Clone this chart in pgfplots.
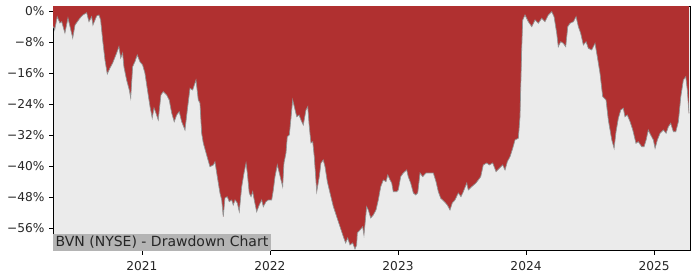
\documentclass[border=0pt]{standalone}
\usepackage{pgfplots}
\usepackage{pgfplotstable}
\pgfplotsset{compat=1.18}
\usepackage{fontspec}
\setmainfont{DejaVu Sans}
\definecolor{ddred}{RGB}{176,48,48}
\definecolor{bg}{RGB}{235,235,235}
\definecolor{boxg}{RGB}{180,180,180}
\pgfplotstableread{
x y
2020.305 1.5
2020.305 -4.0
2020.313 -4.39
2020.318 -4.90
2020.338 -1.47
2020.359 -3.10
2020.373 -2.76
2020.398 -5.68
2020.422 -1.81
2020.459 -6.97
2020.477 -3.61
2020.516 -1.81
2020.539 -1.03
2020.568 -0.44
2020.586 -2.76
2020.607 -1.47
2020.617 -3.61
2020.646 -1.29
2020.664 -1.03
2020.677 -2.32
2020.693 -7.48
2020.711 -12.65
2020.729 -16.26
2020.750 -14.71
2020.771 -13.42
2020.802 -10.84
2020.820 -9.21
2020.834 -12.13
2020.849 -10.84
2020.859 -14.37
2020.880 -17.81
2020.901 -20.39
2020.912 -22.45
2020.927 -14.37
2020.945 -13.08
2020.963 -11.35
2020.984 -13.08
2021.005 -13.94
2021.023 -16.00
2021.045 -20.83
2021.063 -24.70
2021.080 -27.61
2021.094 -25.03
2021.109 -26.32
2021.127 -28.13
2021.148 -21.68
2021.166 -20.83
2021.193 -21.68
2021.213 -22.97
2021.232 -26.32
2021.252 -28.57
2021.271 -26.84
2021.291 -25.99
2021.310 -28.57
2021.336 -30.71
2021.354 -25.55
2021.375 -19.95
2021.396 -20.39
2021.422 -17.81
2021.440 -22.97
2021.453 -23.74
2021.466 -31.48
2021.479 -34.06
2021.505 -37.16
2021.531 -40.18
2021.557 -39.74
2021.570 -38.89
2021.584 -41.81
2021.609 -46.97
2021.623 -48.77
2021.635 -53.08
2021.648 -48.26
2021.666 -47.92
2021.682 -49.21
2021.701 -48.77
2021.713 -50.06
2021.727 -48.77
2021.745 -49.55
2021.760 -51.79
2021.779 -45.34
2021.797 -41.81
2021.813 -39.23
2021.823 -41.81
2021.838 -46.97
2021.852 -47.92
2021.865 -46.63
2021.877 -48.77
2021.896 -51.79
2021.916 -50.06
2021.935 -48.77
2021.948 -50.50
2021.969 -49.21
2021.987 -48.77
2022.013 -48.77
2022.026 -46.19
2022.039 -42.76
2022.057 -39.74
2022.073 -41.81
2022.086 -43.61
2022.099 -45.34
2022.109 -39.23
2022.125 -36.64
2022.135 -32.44
2022.151 -32.00
2022.164 -27.61
2022.177 -22.97
2022.190 -24.70
2022.209 -27.28
2022.227 -26.84
2022.242 -28.13
2022.260 -29.42
2022.281 -25.55
2022.295 -24.70
2022.307 -29.86
2022.320 -34.06
2022.334 -33.73
2022.346 -37.60
2022.365 -46.63
2022.385 -42.76
2022.398 -39.23
2022.416 -38.45
2022.430 -40.18
2022.448 -44.05
2022.469 -46.97
2022.495 -50.50
2022.521 -53.08
2022.547 -55.66
2022.573 -58.24
2022.591 -59.87
2022.607 -58.58
2022.625 -60.39
2022.646 -59.87
2022.664 -61.42
2022.677 -60.39
2022.682 -57.29
2022.703 -56.52
2022.724 -55.66
2022.734 -57.81
2022.755 -50.50
2022.768 -51.35
2022.787 -53.42
2022.807 -52.65
2022.828 -51.35
2022.846 -48.77
2022.865 -45.34
2022.885 -43.61
2022.906 -44.05
2022.920 -42.32
2022.938 -43.61
2022.951 -44.39
2022.963 -46.63
2022.990 -46.63
2023.002 -46.19
2023.021 -42.76
2023.041 -41.81
2023.068 -41.03
2023.080 -42.76
2023.099 -44.39
2023.120 -46.97
2023.138 -47.48
2023.154 -46.97
2023.172 -41.81
2023.193 -42.76
2023.219 -41.81
2023.250 -41.81
2023.276 -41.81
2023.297 -44.05
2023.315 -46.63
2023.334 -48.34
2023.362 -49.21
2023.385 -50.06
2023.406 -51.35
2023.424 -49.55
2023.445 -48.77
2023.471 -46.97
2023.492 -47.92
2023.510 -46.63
2023.537 -44.39
2023.549 -46.19
2023.576 -45.34
2023.609 -44.39
2023.627 -43.61
2023.646 -42.76
2023.666 -39.74
2023.693 -39.23
2023.713 -39.74
2023.740 -39.23
2023.766 -41.47
2023.791 -40.59
2023.818 -39.74
2023.836 -41.03
2023.854 -38.89
2023.875 -37.60
2023.896 -35.43
2023.914 -33.29
2023.940 -32.85
2023.953 -27.28
2023.966 -10.06
2023.974 -2.32
2023.992 -1.03
2024.018 -2.76
2024.045 -4.05
2024.070 -2.32
2024.096 -3.17
2024.123 -1.88
2024.148 -2.76
2024.174 -1.03
2024.201 -0.18
2024.219 -1.47
2024.240 -5.75
2024.252 -9.21
2024.271 -7.92
2024.291 -8.34
2024.310 -9.21
2024.326 -4.05
2024.344 -3.17
2024.370 -2.76
2024.391 -1.47
2024.409 -4.05
2024.427 -5.75
2024.448 -8.77
2024.469 -7.92
2024.487 -9.63
2024.513 -10.06
2024.539 -8.34
2024.557 -11.79
2024.578 -16.08
2024.599 -22.12
2024.625 -22.97
2024.643 -28.13
2024.670 -33.29
2024.688 -35.43
2024.703 -31.15
2024.721 -27.69
2024.740 -25.55
2024.760 -25.11
2024.773 -27.28
2024.791 -26.84
2024.813 -28.57
2024.834 -30.71
2024.859 -34.14
2024.877 -33.73
2024.904 -35.02
2024.922 -35.02
2024.938 -33.29
2024.955 -30.71
2024.974 -32.00
2024.995 -33.29
2025.008 -35.43
2025.026 -33.29
2025.047 -31.56
2025.073 -30.71
2025.094 -31.56
2025.112 -29.86
2025.130 -28.98
2025.151 -31.15
2025.170 -31.15
2025.190 -28.57
2025.209 -22.12
2025.229 -17.81
2025.248 -16.95
2025.260 -20.39
2025.273 -26.40
2025.273 1.5
}\dd
\begin{document}
\begin{tikzpicture}
\useasboundingbox (0pt,0pt) rectangle (700pt,280pt);
\begin{axis}[
  at={(53pt,29pt)}, anchor=south west,
  scale only axis, width=637pt, height=244pt,
  xmin=2020.305, xmax=2025.281, ymin=-61.94, ymax=1.03,
  axis background/.style={fill=bg},
  axis line style={black, line width=1pt},
  tick align=outside, tick pos=left,
  major tick length=4pt,
  tick style={black, line width=0.8pt},
  xtick={2021,2022,2023,2024,2025},
  xticklabels={2021,2022,2023,2024,2025},
  ytick={-56,-48,-40,-32,-24,-16,-8,0},
  yticklabels={−56\%,−48\%,−40\%,−32\%,−24\%,−16\%,−8\%,0\%},
  ticklabel style={font=\fontsize{12.2}{14}\selectfont, text=black!85},
  xticklabel style={yshift=-3pt},
  yticklabel style={xshift=-1pt},
]
\addplot[fill=ddred, draw=none] table {\dd};
\addplot[color=gray!85, line width=0.7pt, restrict y to domain=-70:0, unbounded coords=discard] table {\dd};
\node[anchor=south west, fill=boxg, inner xsep=2.5pt, inner ysep=2.4pt,
  font=\fontsize{14}{16}\selectfont, text=black!85] at (rel axis cs:0,0) {BVN (NYSE) - Drawdown Chart};
\end{axis}
\end{tikzpicture}
\end{document}
